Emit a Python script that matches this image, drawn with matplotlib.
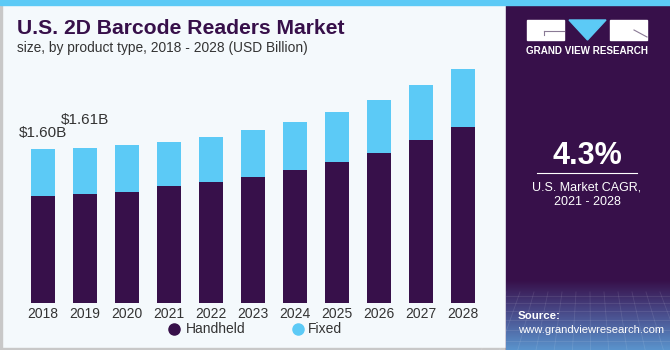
import numpy as np
import matplotlib
matplotlib.use('Agg')
import matplotlib.pyplot as plt
from matplotlib.patches import Rectangle, Polygon

# data (USD Billion)
years = ['2018', '2019', '2020', '2021', '2022', '2023', '2024', '2025', '2026', '2027', '2028']
handheld = [1.12, 1.14, 1.16, 1.22, 1.26, 1.31, 1.385, 1.47, 1.56, 1.697, 1.829]
fixed = [0.48, 0.47, 0.48, 0.46, 0.465, 0.49, 0.495, 0.52, 0.55, 0.571, 0.602]
value_labels = ['$1.60B', '$1.61B']
label_lift = [0.17, 0.295]
series_names = ['Handheld', 'Fixed']

PURPLE = '#37104a'
BLUE = '#5ccaf6'
BG = '#f4f9fc'
TXT = '#333333'

plt.rcParams['font.family'] = ['Liberation Sans', 'DejaVu Sans']

W, H = 670, 350
fig = plt.figure(figsize=(6.7, 3.5), dpi=100)
fig.patch.set_facecolor(BG)

# background / decoration layer in pixel coords
bg = fig.add_axes([0, 0, 1, 1])
bg.axis('off')
bg.add_patch(Rectangle((0, 0), 1.5, H, color='#c8c8c8'))
bg.add_patch(Rectangle((0, 347.5), W, 2.5, color='#c8c8c8'))
bg.add_patch(Rectangle((506, 0), W - 506, H, color=PURPLE))
# gradient at bottom of the side panel: purple on top, blue at the bottom
grad = np.linspace(0, 1, 100)[:, None]
cm = matplotlib.colors.LinearSegmentedColormap.from_list('g', [PURPLE, '#4a4f8e', '#5a93cc'])
bg.imshow(grad, extent=(506, W, H, 280), cmap=cm, aspect='auto', zorder=1, origin='upper')
bg.set_xlim(0, W)
bg.set_ylim(H, 0)
for gx in np.arange(506, W, 14):
    bg.plot([gx, gx + (gx - 588) * 0.3], [292, H], color='white', alpha=0.1, lw=0.6, zorder=2)
for gy in [296, 303, 311, 320, 330, 341]:
    bg.plot([506, W], [gy, gy], color='white', alpha=0.1, lw=0.6, zorder=2)
bg.add_patch(Rectangle((0, 0), W, 5, color=BLUE, zorder=3))

# logo
bg.add_patch(Rectangle((527, 20), 37, 19.5, color='white', zorder=3))
bg.plot([544, 564], [31, 31], color='#8a7a95', lw=0.8, zorder=4)
bg.plot([544, 544], [31, 35], color='#8a7a95', lw=0.8, zorder=4)
bg.add_patch(Polygon([[569, 20], [606, 20], [587.5, 40]], color=BLUE, zorder=3))
bg.add_patch(Rectangle((610, 20), 37, 19.5, color='white', zorder=3))
bg.plot([634, 647], [30, 37], color='#8a7a95', lw=0.8, zorder=4)
bg.text(587, 51, 'GRAND VIEW RESEARCH', color='white', fontsize=7.1, fontweight='bold',
        ha='center', va='center', zorder=4)

bg.text(587, 156, '4.3%', color='white', fontsize=22, fontweight='bold', ha='center', va='center')
bg.plot([537, 637], [173, 173], color='white', lw=0.8)
bg.text(587, 188, 'U.S. Market CAGR,', color='white', fontsize=9, ha='center', va='center')
bg.text(587, 202, '2021 - 2028', color='white', fontsize=9, ha='center', va='center')
bg.text(518, 316, 'Source:', color='white', fontsize=8.2, fontweight='bold', ha='left', va='center', zorder=4)
bg.text(518, 330, 'www.grandviewresearch.com', color='white', fontsize=8.1, ha='left', va='center', zorder=4)

# titles
bg.text(17, 28, 'U.S. 2D Barcode Readers Market', color=PURPLE, fontsize=15.2, fontweight='bold',
        ha='left', va='center')
bg.text(17, 48, 'size, by product type, 2018 - 2028 (USD Billion)', color=TXT, fontsize=9.9,
        ha='left', va='center')

# legend, drawn by hand to match the spacing
for (cx, tx), name, col in zip([(174, 186), (298, 308)], series_names, [PURPLE, BLUE]):
    bg.plot(cx, 329, 'o', color=col, markersize=8)
    bg.text(tx, 329, name, color=TXT, fontsize=10, ha='left', va='center')

# bar chart
ax = fig.add_axes([21.8 / W, 1 - 303.3 / H, 462 / W, 2.6 * 96.25 / H])
ax.patch.set_alpha(0)
x = np.arange(len(years))
ax.bar(x, handheld, width=0.57, color=PURPLE, zorder=2, label=series_names[0])
ax.bar(x, fixed, width=0.57, bottom=handheld, color=BLUE, zorder=2, label=series_names[1])
for i, (lab, lift) in enumerate(zip(value_labels, label_lift)):
    ax.text(x[i], handheld[i] + fixed[i] + lift, lab, ha='center', va='center',
            fontsize=11, color=TXT)
ax.set_xlim(-0.5, len(years) - 0.5)
ax.set_ylim(0, 2.6)
ax.set_xticks(x)
ax.set_xticklabels(years, fontsize=10, color=TXT)
ax.tick_params(axis='x', length=0, pad=3)
ax.set_yticks([])
for s in ax.spines.values():
    s.set_visible(False)

fig.savefig('out.png', dpi=100, facecolor=BG)
